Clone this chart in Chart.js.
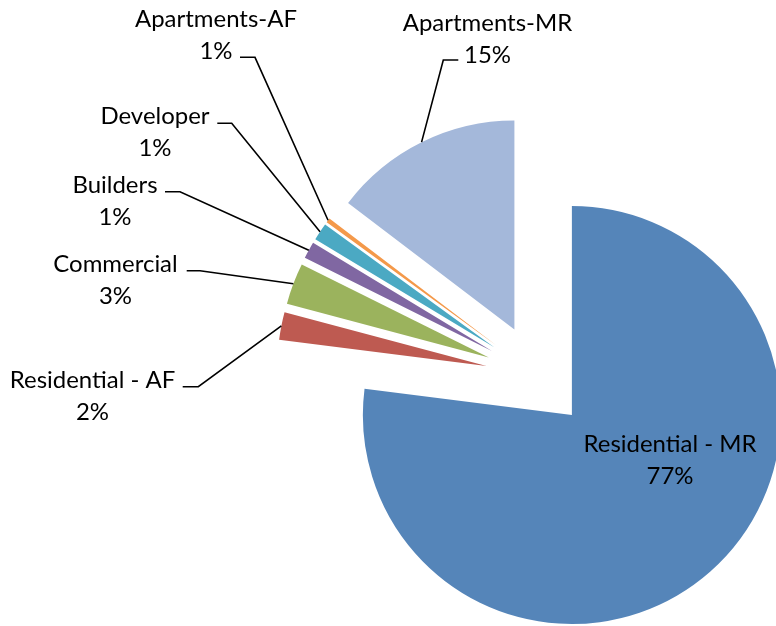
<!DOCTYPE html>
<html>
<head>
<meta charset="utf-8">
<script src="https://cdn.jsdelivr.net/npm/chart.js@4.4.1/dist/chart.umd.min.js"></script>
<style>
html,body{margin:0;padding:0;background:#ffffff;}
#wrap{width:776px;height:626px;}
</style>
</head>
<body>
<div id="wrap"><canvas id="c" width="776" height="626"></canvas></div>
<script>
// ---- data ----
const categories = ['Residential - MR', 'Residential - AF', 'Commercial', 'Builders', 'Developer', 'Apartments-AF', 'Apartments-MR'];
const shares = [77.0, 2.15, 3.2, 1.3, 1.35, 0.35, 14.65];
const percentLabels = ['77%', '2%', '3%', '1%', '1%', '1%', '15%'];
const sliceColors = ['#5585B9', '#BE5A51', '#9BB35D', '#8067A2', '#4BA9C3', '#F4994A', '#A4B8DA'];

const FONT = 'Lato, "Open Sans", sans-serif';

// label placement (text centre x, baseline of first line, leader start + knee)
const labelLayout = [
  { x: 670,   y: 451.7 },
  { x: 92.5,  y: 388.3, lead: [[182.7, 386.7], [198.3, 386.7]] },
  { x: 115.5, y: 271.7, lead: [[186.7, 270.7], [200, 270.7]] },
  { x: 115,   y: 192.7, lead: [[165, 191.7], [180, 191.7]] },
  { x: 155,   y: 124,   lead: [[217.3, 123.3], [231.7, 123.3]] },
  { x: 216,   y: 26.7,  lead: [[240, 57.3], [255, 57.3]] },
  { x: 487.5, y: 31,    lead: [[458.3, 60], [443.3, 60]] }
];

const EXPLODE = 52;

const explodePlugin = {
  id: 'explode',
  beforeDatasetDraw(chart, args) {
    const ctx = chart.ctx;
    args.meta.data.forEach(el => {
      const mid = (el.startAngle + el.endAngle) / 2;
      ctx.save();
      ctx.translate(Math.cos(mid) * EXPLODE, Math.sin(mid) * EXPLODE);
      el.draw(ctx);
      ctx.restore();
    });
    return false;
  }
};

const labelPlugin = {
  id: 'pieLabels',
  afterDraw(chart) {
    const ctx = chart.ctx;
    const meta = chart.getDatasetMeta(0);
    ctx.save();
    ctx.font = '20px ' + FONT;
    const fs = 20 * 173 / ctx.measureText('Residential - MR').width;
    ctx.font = fs.toFixed(2) + 'px ' + FONT;
    ctx.fillStyle = '#000000';
    ctx.strokeStyle = '#000000';
    ctx.lineWidth = 1.6;
    ctx.textAlign = 'center';
    ctx.textBaseline = 'alphabetic';
    meta.data.forEach((el, i) => {
      const L = labelLayout[i];
      ctx.fillText(categories[i], L.x, L.y);
      ctx.fillText(percentLabels[i], L.x, L.y + 32);
      if (L.lead) {
        const mid = (el.startAngle + el.endAngle) / 2;
        const r = el.outerRadius + EXPLODE;
        const px = el.x + Math.cos(mid) * r;
        const py = el.y + Math.sin(mid) * r;
        ctx.beginPath();
        ctx.moveTo(L.lead[0][0], L.lead[0][1]);
        ctx.lineTo(L.lead[1][0], L.lead[1][1]);
        ctx.lineTo(px, py);
        ctx.stroke();
      }
    });
    ctx.restore();
  }
};

new Chart(document.getElementById('c'), {
  type: 'pie',
  data: {
    labels: categories,
    datasets: [{
      data: shares,
      backgroundColor: sliceColors,
      borderWidth: 0,
      radius: 209
    }]
  },
  options: {
    responsive: false,
    animation: false,
    events: [],
    layout: { padding: { left: 299, top: 126, right: 0, bottom: 0 } },
    plugins: {
      legend: { display: false },
      tooltip: { enabled: false }
    }
  },
  plugins: [explodePlugin, labelPlugin]
});
</script>
</body>
</html>
